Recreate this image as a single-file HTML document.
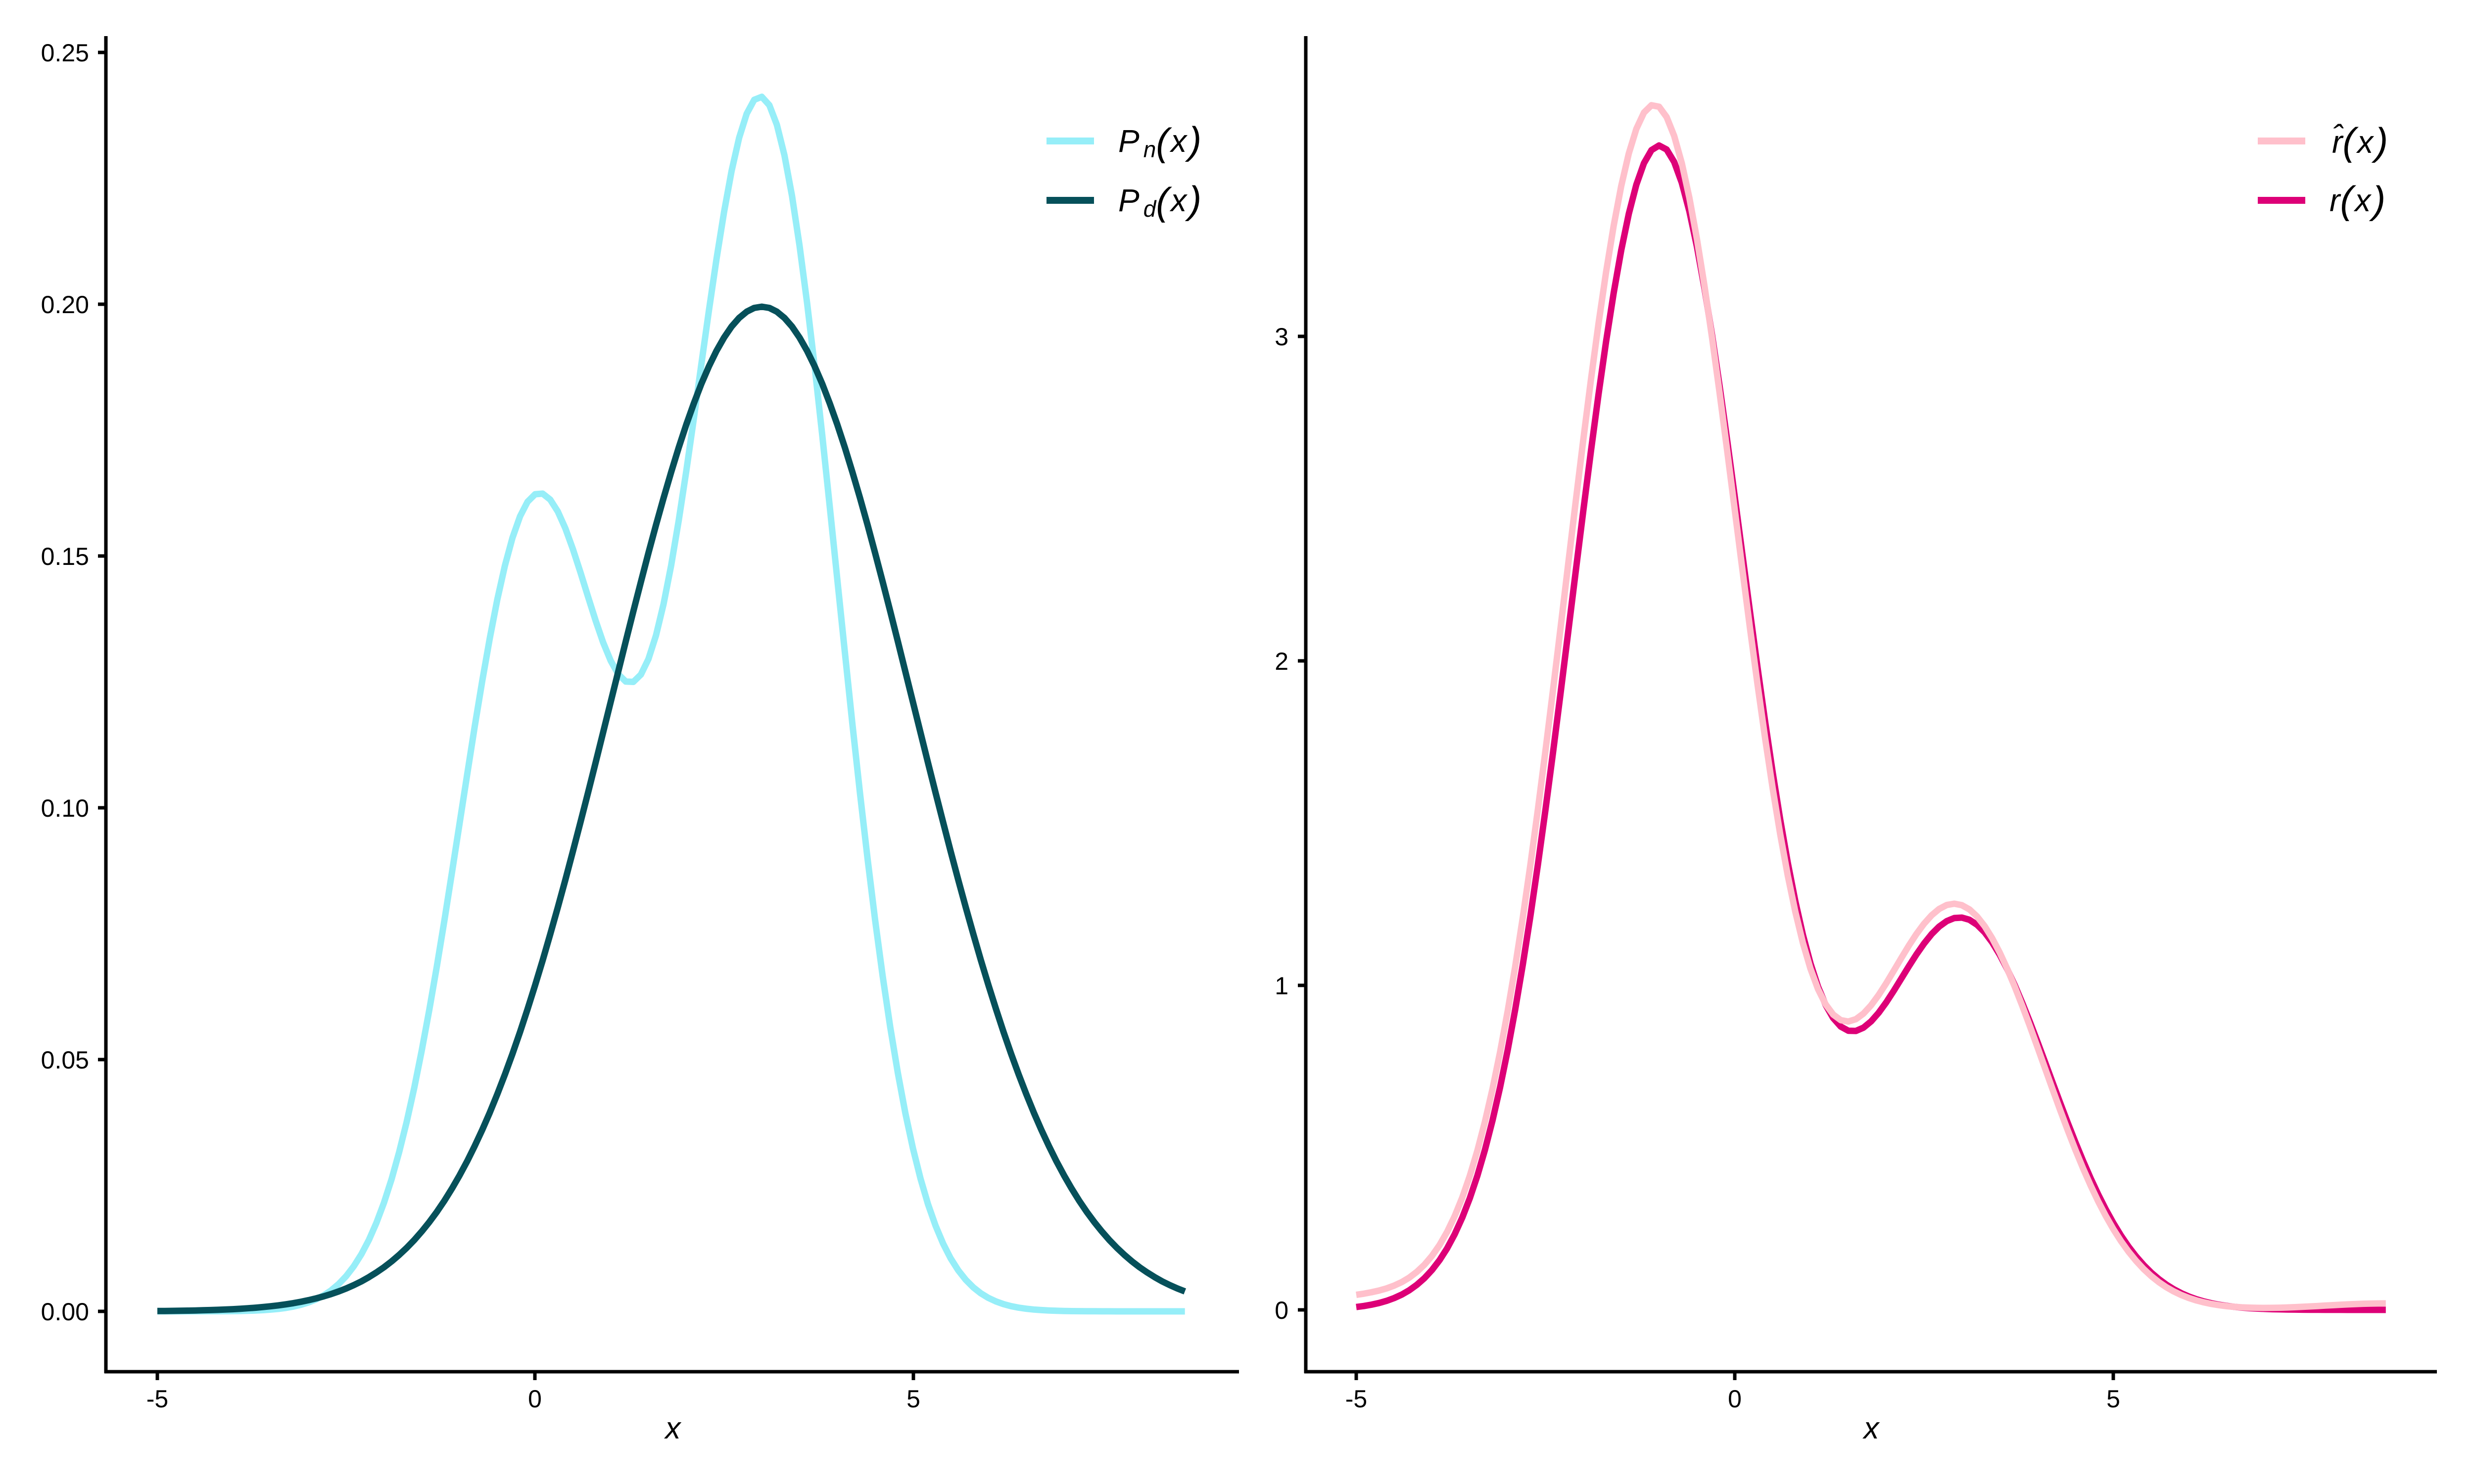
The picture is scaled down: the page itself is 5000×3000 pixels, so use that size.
<!DOCTYPE html>
<html><head><meta charset="utf-8"><style>
html,body{margin:0;padding:0;background:#fff;}
svg{display:block;}
text{font-family:"Liberation Sans",sans-serif;fill:#000;}
</style></head><body>
<svg id="s" width="5000" height="3000" viewBox="0 0 5000 3000" xmlns="http://www.w3.org/2000/svg">
<rect width="5000" height="3000" fill="#fff"/>
<g id="curves"></g>
<line x1="214" y1="73" x2="214" y2="2776" stroke="#000" stroke-width="7"/>
<line x1="211" y1="2773" x2="2504" y2="2773" stroke="#000" stroke-width="7"/>
<g stroke="#000" stroke-width="7">
<line x1="198" y1="106" x2="214" y2="106"/><line x1="198" y1="615" x2="214" y2="615"/>
<line x1="198" y1="1124" x2="214" y2="1124"/><line x1="198" y1="1633" x2="214" y2="1633"/>
<line x1="198" y1="2142" x2="214" y2="2142"/><line x1="198" y1="2651" x2="214" y2="2651"/>
<line x1="318" y1="2773" x2="318" y2="2790"/><line x1="1081" y1="2773" x2="1081" y2="2790"/><line x1="1846" y1="2773" x2="1846" y2="2790"/>
</g>
<g font-size="50" text-anchor="end">
<text x="180" y="124">0.25</text><text x="180" y="633">0.20</text><text x="180" y="1142">0.15</text>
<text x="180" y="1651">0.10</text><text x="180" y="2160">0.05</text><text x="180" y="2669">0.00</text>
</g>
<g font-size="50" text-anchor="middle">
<text x="318" y="2845">-5</text><text x="1081" y="2845">0</text><text x="1846" y="2845">5</text>
</g>
<text x="1360" y="2908" font-size="62" font-style="italic" text-anchor="middle">x</text>
<line x1="2639" y1="73" x2="2639" y2="2776" stroke="#000" stroke-width="7"/>
<line x1="2636" y1="2773" x2="4925" y2="2773" stroke="#000" stroke-width="7"/>
<g stroke="#000" stroke-width="7">
<line x1="2623" y1="2648" x2="2639" y2="2648"/><line x1="2623" y1="1992" x2="2639" y2="1992"/>
<line x1="2623" y1="1336" x2="2639" y2="1336"/><line x1="2623" y1="680" x2="2639" y2="680"/>
<line x1="2741" y1="2773" x2="2741" y2="2790"/><line x1="3506" y1="2773" x2="3506" y2="2790"/><line x1="4271" y1="2773" x2="4271" y2="2790"/>
</g>
<g font-size="50" text-anchor="end">
<text x="2604" y="2666">0</text><text x="2604" y="2010">1</text><text x="2604" y="1354">2</text><text x="2604" y="698">3</text>
</g>
<g font-size="50" text-anchor="middle">
<text x="2741" y="2845">-5</text><text x="3506" y="2845">0</text><text x="4271" y="2845">5</text>
</g>
<text x="3782" y="2908" font-size="62" font-style="italic" text-anchor="middle">x</text>
<rect x="2115" y="278" width="96" height="14" fill="#96EEF8"/>
<rect x="2115" y="398" width="96" height="14" fill="#06505A"/>
<text x="2260" y="307" font-size="64" font-style="italic">P<tspan font-size="46" dx="8" dy="11">n</tspan><tspan dy="-4" font-size="78">(</tspan><tspan dy="-7" dx="4">x</tspan><tspan dy="4" dx="4" font-size="78">)</tspan></text>
<text x="2260" y="427" font-size="64" font-style="italic">P<tspan font-size="46" dx="8" dy="11">d</tspan><tspan dy="-4" font-size="78">(</tspan><tspan dy="-7" dx="4">x</tspan><tspan dy="4" dx="4" font-size="78">)</tspan></text>
<rect x="4563" y="278" width="96" height="14" fill="#FFC0CB"/>
<rect x="4563" y="398" width="96" height="14" fill="#DD0077"/>
<text x="4713" y="309" font-size="64" font-style="italic">r̂<tspan font-size="78" dy="4">(</tspan><tspan dy="-4" dx="4">x</tspan><tspan dx="4" dy="4" font-size="78">)</tspan></text>
<text x="4708" y="427" font-size="64" font-style="italic">r<tspan font-size="78" dy="4">(</tspan><tspan dy="-4" dx="4">x</tspan><tspan dx="4" dy="4" font-size="78">)</tspan></text>
</svg>
<script>
(function(){
function N(x,m,s){return Math.exp(-(x-m)*(x-m)/(2*s*s))/(s*Math.sqrt(2*Math.PI));}
function pn(x){return 0.4*N(x,0,1)+0.6*N(x,3,1);}
function pd(x){return N(x,3,2);}
function r(x){return pn(x)/pd(x);}
function rh(x){return 1.035*r(x+0.07)+0.035*Math.exp(-(x+5)*(x+5)/1.5)+0.02*Math.exp(-(x-8.6)*(x-8.6)/1.5);}
function path(f,x0,ux,y0,uy,color){
  var d="";for(var i=0;i<=136;i++){var x=-5+i*0.1;var px=x0+(x+5)*ux,py=y0-f(x)*uy;d+=(i?"L":"M")+px.toFixed(1)+","+py.toFixed(1);}
  return '<path d="'+d+'" fill="none" stroke="'+color+'" stroke-width="13" stroke-linejoin="round"/>';
}
var g=document.getElementById("curves");
var h="";
h+=path(pn,318,152.7,2651,10182,"#96EEF8");
h+=path(pd,318,152.7,2651,10182,"#06505A");
h+=path(r,2741,153,2648,656,"#DD0077");
h+=path(rh,2741,153,2648,656,"#FFC0CB");
g.innerHTML=h;
})();
</script>
</body></html>
